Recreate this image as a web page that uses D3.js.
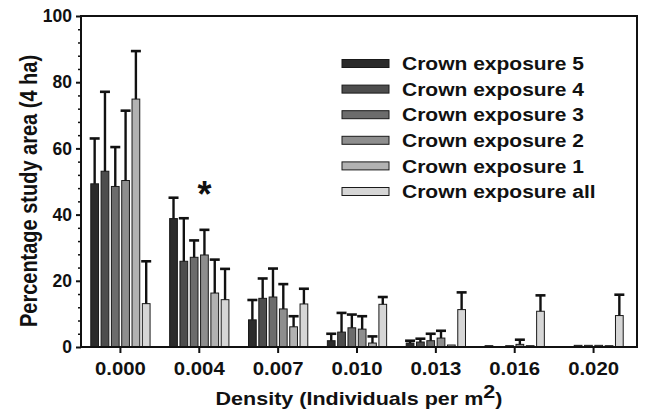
<!DOCTYPE html>
<html>
<head>
<meta charset="utf-8">
<script src="https://cdn.jsdelivr.net/npm/d3@7"></script>
<style>
  html, body { margin: 0; padding: 0; background: #fff; }
  svg { display: block; }
  text { font-family: "Liberation Sans", Arial, Helvetica, sans-serif; font-weight: bold; fill: #111; }
</style>
</head>
<body>
<svg id="chart" width="645" height="414"></svg>
<script>
// Density classes (individuals per m²)
const categories = ["0.000", "0.004", "0.007", "0.010", "0.013", "0.016", "0.020"];

// Crown exposure classes
const seriesNames = ["Crown exposure 5", "Crown exposure 4", "Crown exposure 3",
                     "Crown exposure 2", "Crown exposure 1", "Crown exposure all"];

// Mean percentage of study area per density class
const ce5   = [49.3, 38.8,  8.2,  1.9, 1.2, 0.4, 0.0];
const ce4   = [53.1, 25.9, 14.7,  4.5, 1.5, 0.0, 0.5];
const ce3   = [48.5, 27.1, 15.1,  5.8, 1.9, 0.4, 0.5];
const ce2   = [50.3, 27.8, 11.5,  5.4, 2.7, 0.8, 0.5];
const ce1   = [74.9, 16.3,  6.1,  1.2, 0.6, 0.4, 0.4];
const ceAll = [13.1, 14.3, 13.0, 12.9, 11.3, 10.8, 9.5];

// Upper error (SD) for each mean
const ce5Err   = [13.7,  6.3, 6.0, 2.1, 0.7, 0.0, 0.0];
const ce4Err   = [24.0, 13.0, 6.0, 5.8, 1.0, 0.0, 0.0];
const ce3Err   = [11.9,  5.1, 8.6, 4.0, 2.1, 0.0, 0.0];
const ce2Err   = [21.1,  7.6, 7.5, 3.9, 2.2, 1.4, 0.0];
const ce1Err   = [14.5, 10.1, 3.2, 2.0, 0.0, 0.0, 0.0];
const ceAllErr = [12.8,  9.3, 4.6, 2.2, 5.2, 4.8, 6.3];

// Y axis ticks
const yMajorTicks = [0, 20, 40, 60, 80, 100];
const yMinorTicks = d3.range(0, 101, 4).filter(v => v % 20 !== 0);

// Significance marker
const marker = { category: "0.004", series: "Crown exposure 2", y: 48, text: "*" };

const seriesValues = [ce5, ce4, ce3, ce2, ce1, ceAll];
const seriesErrors = [ce5Err, ce4Err, ce3Err, ce2Err, ce1Err, ceAllErr];
const fills = ["#2b2b2b", "#4d4d4d", "#6c6c6c", "#8e8e8e", "#b2b2b2", "#d6d6d6"];

const rows = [];
categories.forEach((c, ci) => {
  seriesNames.forEach((s, si) => {
    rows.push({ category: c, series: s, si, value: seriesValues[si][ci], err: seriesErrors[si][ci] });
  });
});

const svg = d3.select("#chart");
const plot = { left: 81, right: 637, top: 16, bottom: 347 };

const x0 = d3.scaleBand().domain(categories).range([plot.left, 633]);
const x1 = d3.scaleBand().domain(seriesNames).range([0, x0.bandwidth()])
  .paddingInner(0.25).paddingOuter(0.95);
const y = d3.scaleLinear().domain([0, 100]).range([plot.bottom, plot.top]);

// Bars
const g = svg.append("g");
g.selectAll("rect.bar")
  .data(rows.filter(d => d.value > 0))
  .join("rect")
  .attr("class", "bar")
  .attr("x", d => x0(d.category) + x1(d.series))
  .attr("y", d => y(d.value))
  .attr("width", x1.bandwidth())
  .attr("height", d => y(0) - y(d.value))
  .attr("fill", d => fills[d.si])
  .attr("stroke", "#1a1a1a")
  .attr("stroke-width", 1);

// Error bars (upper only)
const errRows = rows.filter(d => d.err > 0);
const capHalf = 5;
const cx = d => x0(d.category) + x1(d.series) + x1.bandwidth() / 2;
g.selectAll("line.err")
  .data(errRows)
  .join("line")
  .attr("class", "err")
  .attr("x1", cx).attr("x2", cx)
  .attr("y1", d => y(d.value))
  .attr("y2", d => y(d.value + d.err))
  .attr("stroke", "#111")
  .attr("stroke-width", 2.4);
g.selectAll("line.cap")
  .data(errRows)
  .join("line")
  .attr("class", "cap")
  .attr("x1", d => cx(d) - capHalf)
  .attr("x2", d => cx(d) + capHalf)
  .attr("y1", d => y(d.value + d.err))
  .attr("y2", d => y(d.value + d.err))
  .attr("stroke", "#111")
  .attr("stroke-width", 2.6);

// Frame
svg.append("rect")
  .attr("x", plot.left).attr("y", plot.top)
  .attr("width", plot.right - plot.left).attr("height", plot.bottom - plot.top)
  .attr("fill", "none").attr("stroke", "#111").attr("stroke-width", 2);

// Y axis
const yAxis = svg.append("g")
  .attr("transform", `translate(${plot.left},0)`)
  .call(d3.axisLeft(y).tickValues(yMajorTicks).tickSize(5).tickPadding(4));
yAxis.select(".domain").remove();
yAxis.selectAll(".tick line").attr("stroke", "#111").attr("stroke-width", 2);
yAxis.selectAll(".tick text")
  .attr("fill", "#111")
  .attr("font-size", 17.5)
  .style("font-size", "17.5px");

const yMinor = svg.append("g")
  .attr("transform", `translate(${plot.left},0)`)
  .call(d3.axisLeft(y).tickValues(yMinorTicks).tickSize(3).tickFormat(""));
yMinor.select(".domain").remove();
yMinor.selectAll(".tick line").attr("stroke", "#111").attr("stroke-width", 1.5);

// X axis
const xAxis = svg.append("g")
  .attr("transform", `translate(0,${plot.bottom})`)
  .call(d3.axisBottom(x0).tickSize(6).tickPadding(4));
xAxis.select(".domain").remove();
xAxis.selectAll(".tick line").attr("stroke", "#111").attr("stroke-width", 2);
xAxis.selectAll(".tick text")
  .attr("fill", "#111")
  .attr("font-size", 18)
  .style("font-size", "18px")
  .attr("y", 0).attr("dy", null)
  .attr("transform", "translate(0,28) scale(1.13,1)");

// Axis titles
const xTitle = svg.append("text")
  .attr("text-anchor", "middle")
  .style("font-size", "18px");
xTitle.append("tspan").text("Density (Individuals per m");
xTitle.append("tspan").attr("dy", -7).text("2");
xTitle.append("tspan").attr("dy", 7).text(")");
const sTitle = 287 / xTitle.node().getBBox().width;
xTitle.attr("transform", `translate(359,405) scale(${sTitle},1)`);

svg.append("text")
  .attr("text-anchor", "middle")
  .style("font-size", "20px")
  .attr("transform", "translate(37,191) rotate(-90) scale(1,1.16)")
  .text("Percentage study area (4 ha)");

// Significance marker
svg.append("text")
  .attr("text-anchor", "middle")
  .style("font-size", "36px")
  .attr("x", cx(marker))
  .attr("y", y(marker.y) + 19)
  .text(marker.text);

// Legend
const legend = svg.append("g");
const legendTop = 63.5, legendStep = 25.6;
const items = legend.selectAll("g.item")
  .data(seriesNames)
  .join("g")
  .attr("class", "item")
  .attr("transform", (d, i) => `translate(0,${legendTop + i * legendStep})`);
items.append("rect")
  .attr("x", 342).attr("y", -4).attr("width", 47).attr("height", 8)
  .attr("fill", (d, i) => fills[i])
  .attr("stroke", "#1a1a1a").attr("stroke-width", 1);
const lt = items.append("text")
  .style("font-size", "18.6px")
  .text(d => d);
const sl = 182 / lt.filter((d, i, n) => d === seriesNames[0]).node().getComputedTextLength();
lt.attr("transform", `translate(402,6.6) scale(${sl},1)`);
</script>
</body>
</html>
